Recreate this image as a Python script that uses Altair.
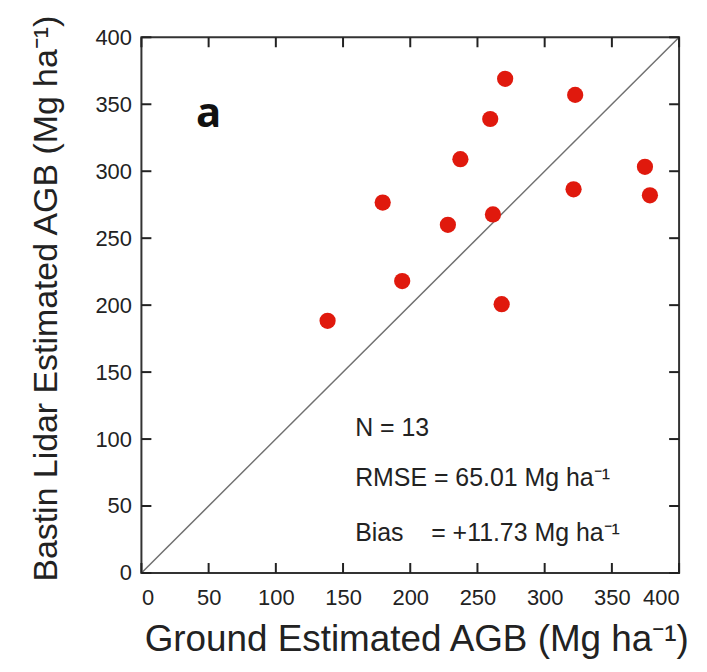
import altair as alt
import pandas as pd

# Data
ground_agb = [138.5, 179.5, 194, 228, 237.3, 259.5, 261.5, 268, 270.6, 321.5, 322.7, 374.6, 378.3]
lidar_agb = [188.3, 276.6, 218, 260, 309, 339, 267.7, 200.7, 369, 286.5, 357, 303.3, 282]
axis_ticks = [0, 50, 100, 150, 200, 250, 300, 350, 400]
one_to_one = [0, 400]
stat_lines = ["N = 13",
              "RMSE = 65.01 Mg ha\u207b\u00b9",
              "Bias\u00a0\u00a0\u00a0\u00a0= +11.73 Mg ha\u207b\u00b9"]
stat_x = [159, 159, 159]
stat_y = [108, 71, 30]
panel_label = ["a"]

W, H = 540, 538
pts = pd.DataFrame({"ground": ground_agb, "lidar": lidar_agb})
line_df = pd.DataFrame({"ground": one_to_one, "lidar": one_to_one})
stats_df = pd.DataFrame({"ground": stat_x, "lidar": stat_y, "t": stat_lines})
lab_df = pd.DataFrame({"ground": [50], "lidar": [343], "t": panel_label})
tick_df = pd.DataFrame({"v": axis_ticks})

FONT = "Liberation Sans"
xscale = alt.Scale(domain=[0, 400], nice=False, zero=False)
yscale = alt.Scale(domain=[0, 400], nice=False, zero=False)

x_axis = alt.Axis(values=axis_ticks, title="Ground Estimated AGB (Mg ha\u207b\u00b9)",
                  orient="bottom", ticks=False, domain=False, grid=False,
                  labelPadding=15, labelFontSize=22, labelFont=FONT, labelColor="#222",
                  titleFont=FONT, titleFontSize=37, titleFontWeight="normal",
                  titleColor="#222", titlePadding=13, titleX=276)
y_axis = alt.Axis(values=axis_ticks, title="Bastin Lidar Estimated AGB (Mg ha\u207b\u00b9)",
                  orient="left", ticks=False, domain=False, grid=False,
                  labelPadding=10, labelFontSize=22, labelFont=FONT, labelColor="#222",
                  titleFont=FONT, titleFontSize=34, titleFontWeight="normal",
                  titleColor="#222", titlePadding=32, titleY=262)

line = alt.Chart(line_df).mark_line(color="#707070", strokeWidth=1.5).encode(
    x=alt.X("ground:Q", scale=xscale, axis=x_axis),
    y=alt.Y("lidar:Q", scale=yscale, axis=y_axis),
)

rule_style = dict(color="#222", strokeWidth=2)
ticks_left = alt.Chart(tick_df).mark_rule(**rule_style).encode(
    y=alt.Y("v:Q", scale=yscale), x=alt.value(0), x2=alt.value(10))
ticks_right = alt.Chart(tick_df).mark_rule(**rule_style).encode(
    y=alt.Y("v:Q", scale=yscale), x=alt.value(W - 10), x2=alt.value(W))
ticks_bottom = alt.Chart(tick_df).mark_rule(**rule_style).encode(
    x=alt.X("v:Q", scale=xscale), y=alt.value(H - 10), y2=alt.value(H))
ticks_top = alt.Chart(tick_df).mark_rule(**rule_style).encode(
    x=alt.X("v:Q", scale=xscale), y=alt.value(0), y2=alt.value(10))

points = alt.Chart(pts).mark_circle(size=265, color="#e0190d", opacity=1).encode(
    x=alt.X("ground:Q", scale=xscale),
    y=alt.Y("lidar:Q", scale=yscale),
)

stats = alt.Chart(stats_df).mark_text(align="left", baseline="middle", font=FONT,
                                      fontSize=25, color="#222").encode(
    x=alt.X("ground:Q", scale=xscale),
    y=alt.Y("lidar:Q", scale=yscale),
    text="t:N",
)

label = alt.Chart(lab_df).mark_text(align="center", baseline="middle", font="Open Sans",
                                    fontSize=42, fontWeight="bold", color="#111").encode(
    x=alt.X("ground:Q", scale=xscale),
    y=alt.Y("lidar:Q", scale=yscale),
    text="t:N",
)

chart = alt.layer(line, ticks_left, ticks_right, ticks_bottom, ticks_top,
                  points, stats, label).properties(
    width=W, height=H,
    padding={"left": 134, "top": 28, "right": 20, "bottom": 90},
    autosize=alt.AutoSizeParams(type="none"),
).configure_view(stroke="#333", strokeWidth=2)

chart.save("out.html", embed_options={"renderer": "svg", "actions": False})
